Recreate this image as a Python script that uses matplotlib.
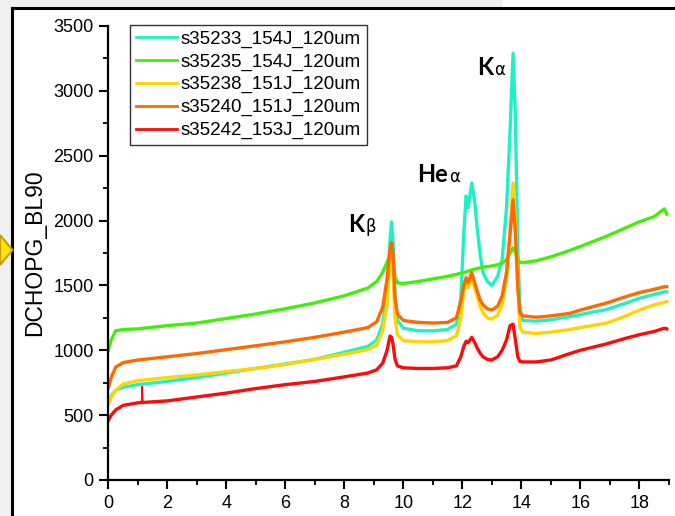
import matplotlib
matplotlib.use("Agg")
import matplotlib.pyplot as plt
from matplotlib.patches import Rectangle, Polygon
from matplotlib.lines import Line2D
from matplotlib.ticker import MultipleLocator

plt.rcParams['font.family'] = ['Liberation Sans', 'DejaVu Sans']

# ---------------- data ----------------
energy = [0.0, 0.1, 0.25, 0.5, 1.0, 2.0, 3.0, 4.0, 5.0, 6.0, 7.0, 8.0, 8.8,
          9.1, 9.3, 9.45, 9.55, 9.6, 9.65, 9.72, 9.8, 10.0, 10.5, 11.0, 11.5,
          11.8, 11.95, 12.05, 12.13, 12.2, 12.32, 12.42, 12.5, 12.6, 12.7,
          12.85, 13.0, 13.2, 13.35, 13.5, 13.62, 13.72, 13.8, 13.88, 13.95,
          14.05, 14.5, 15.0, 15.65, 16.0, 16.9, 17.5, 18.0, 18.5, 18.85, 18.93]

s35233 = [600, 650, 690, 715, 735, 760, 790, 825, 860, 895, 930, 985, 1030,
          1080, 1200, 1450, 1850, 1990, 1850, 1400, 1230, 1170, 1150, 1150, 1160,
          1200, 1400, 1900, 2190, 2100, 2290, 2150, 1950, 1750, 1600,
          1530, 1500, 1570, 1700, 2100, 2700, 3290, 2800, 1800, 1330,
          1230, 1225, 1235, 1260, 1275, 1315, 1360, 1400, 1430, 1450, 1450]

s35235 = [1000, 1080, 1150, 1160, 1165, 1190, 1210, 1245, 1280, 1320, 1365, 1420, 1480,
          1530, 1600, 1680, 1730, 1720, 1690, 1560, 1520, 1515, 1530, 1550, 1570,
          1585, 1595, 1600, 1605, 1610, 1620, 1625, 1630, 1635, 1640,
          1645, 1650, 1660, 1670, 1700, 1750, 1790, 1760, 1700, 1680,
          1675, 1690, 1720, 1770, 1800, 1880, 1940, 1990, 2030, 2090, 2050]

s35238 = [580, 640, 690, 740, 765, 790, 810, 835, 860, 890, 930, 970, 1005,
          1040, 1150, 1350, 1700, 1760, 1600, 1250, 1120, 1075, 1065, 1065, 1075,
          1110, 1250, 1450, 1540, 1480, 1570, 1480, 1420, 1340, 1290,
          1250, 1240, 1270, 1350, 1550, 1900, 2290, 2000, 1500, 1180,
          1140, 1130, 1140, 1160, 1175, 1210, 1260, 1310, 1350, 1370, 1375]

s35240 = [710, 790, 870, 905, 925, 950, 975, 1005, 1035, 1065, 1100, 1140, 1175,
          1220, 1330, 1550, 1780, 1830, 1750, 1400, 1280, 1230, 1215, 1210, 1215,
          1250, 1380, 1500, 1560, 1520, 1600, 1520, 1460, 1390, 1350,
          1320, 1310, 1340, 1420, 1600, 1900, 2160, 1900, 1500, 1290,
          1265, 1255, 1265, 1285, 1310, 1365, 1410, 1445, 1470, 1490, 1490]

s35242 = [460, 500, 540, 575, 595, 610, 640, 670, 705, 735, 760, 795, 825,
          850, 900, 1000, 1110, 1100, 1050, 930, 880, 865, 860, 860, 865,
          880, 950, 1030, 1070, 1060, 1100, 1060, 1020, 980, 950,
          930, 925, 950, 1000, 1080, 1190, 1200, 1080, 950, 915,
          910, 910, 925, 975, 1000, 1050, 1090, 1120, 1145, 1170, 1165]

spike_x = [1.13, 1.15, 1.17]
spike_y = [600, 720, 600]

series_names = ["s35233_154J_120um", "s35235_154J_120um", "s35238_151J_120um",
                "s35240_151J_120um", "s35242_153J_120um"]
series_values = [s35233, s35235, s35238, s35240, s35242]
series_colors = ["#1EF2C4", "#44EE0C", "#FFD400", "#FF6A00", "#FF0A0A"]

x_ticks = [0, 2, 4, 6, 8, 10, 12, 14, 16, 18]
y_ticks = [0, 500, 1000, 1500, 2000, 2500, 3000, 3500]

peak_labels = [("K", "\u03b2", 8.67, 1912), ("He", "\u03b1", 11.52, 2298), ("K", "\u03b1", 13.04, 3123)]

# ---------------- figure ----------------
W, H = 675, 516
fig = plt.figure(figsize=(W / 100, H / 100), dpi=100)
fig.patch.set_facecolor("white")

# screenshot surroundings: grey margin, black frame, yellow pointer
fig.add_artist(Rectangle((0, 0), 12 / W, 1, transform=fig.transFigure,
                         facecolor="#f0f0f0", edgecolor="none", zorder=0))
fig.add_artist(Rectangle((0, 1 - 8 / H), 502 / W, 8 / H, transform=fig.transFigure,
                         facecolor="#f0f0f0", edgecolor="none", zorder=0))
fig.add_artist(Line2D([12 / W, 12 / W], [0, 1 - 8 / H], transform=fig.transFigure,
                      color="black", lw=2.2, zorder=1))
fig.add_artist(Line2D([12 / W, 1], [1 - 8 / H, 1 - 8 / H], transform=fig.transFigure,
                      color="black", lw=2.2, zorder=1))
fig.add_artist(Polygon([(0, 1 - 235 / H), (12.5 / W, 1 - 250 / H), (0, 1 - 265 / H)],
                       closed=True, transform=fig.transFigure,
                       facecolor="#FFE800", edgecolor="#C89B00", lw=1.5, zorder=2))

ax = fig.add_axes([108.3 / W, (H - 480) / H, (668.8 - 108.3) / W, (480 - 26) / H])
ax.set_facecolor("none")

for name, vals, col in zip(series_names, series_values, series_colors):
    ax.plot(energy, vals, color=col, lw=2.4, label=name, solid_joinstyle="round")
ax.plot(spike_x, spike_y, color=series_colors[4], lw=1.2)

ax.set_xlim(0, 19)
ax.set_ylim(0, 3500)
ax.set_xticks(x_ticks)
ax.set_yticks(y_ticks)
ax.xaxis.set_minor_locator(MultipleLocator(1))
ax.yaxis.set_minor_locator(MultipleLocator(250))

for s in ["top", "right"]:
    ax.spines[s].set_visible(False)
for s in ["left", "bottom"]:
    ax.spines[s].set_linewidth(1.6)
ax.tick_params(which="major", direction="out", length=6.5, width=1.5,
               labelsize=13, pad=4)
ax.tick_params(which="minor", direction="out", length=3.5, width=1.3)

ax.set_ylabel("DCHOPG_BL90", fontsize=16.5, labelpad=5)

for main, greek, xr, yb in peak_labels:
    ax.text(xr, yb, main, ha="right", va="baseline", fontsize=17,
            fontweight="bold", family=["Lato", "DejaVu Sans"])
    ax.text(xr + 0.05, yb, greek, ha="left", va="baseline", fontsize=12,
            family=["DejaVu Sans"])

leg = ax.legend(loc="upper left", bbox_to_anchor=((130 - 108.3) / (668.8 - 108.3), 1.003),
                fontsize=13.5, frameon=True, fancybox=False, edgecolor="black",
                handlelength=2.2, handletextpad=0.2, labelspacing=0.3,
                borderpad=0.3, borderaxespad=0)
leg.get_frame().set_linewidth(1.0)
for ln in leg.get_lines():
    ln.set_linewidth(2.0)

fig.savefig("out.png", dpi=100)
